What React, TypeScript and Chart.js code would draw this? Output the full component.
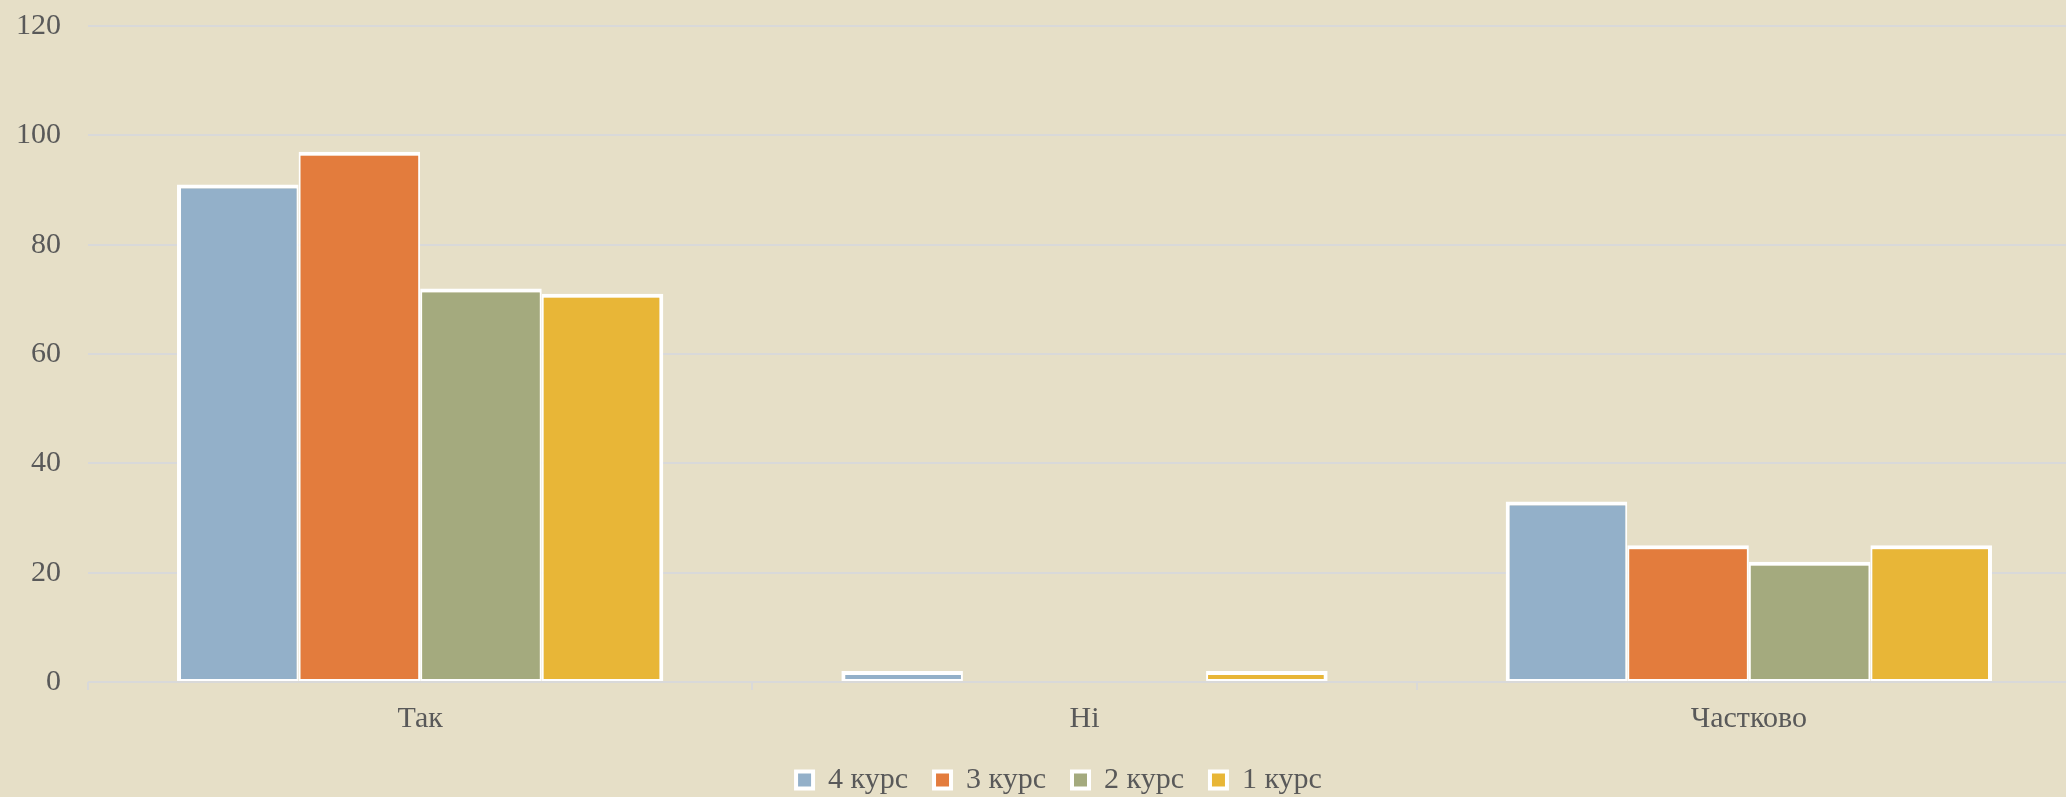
import React, { useEffect, useRef } from 'react';
import { Chart, registerables } from 'chart.js';

Chart.register(...registerables);

const categories = ['Так', 'Ні', 'Частково'];
const seriesLabels = ['4 курс', '3 курс', '2 курс', '1 курс'];
const course4 = [91, 2, 33];
const course3 = [97, 0, 25];
const course2 = [72, 0, 22];
const course1 = [71, 2, 25];
const yMin = 0;
const yMax = 120;
const yStep = 20;

const seriesColors = ['#93B0C9', '#E37C3D', '#A4AA7E', '#E8B637'];
const BG = '#E6DFC7';
const TEXT = '#595959';
const GRID = '#D9D9D9';
const FONT = '"Liberation Serif", "DejaVu Serif", serif';

export default function App() {
  const ref = useRef<HTMLCanvasElement | null>(null);

  useEffect(() => {
    if (!ref.current) return;
    const values = [course4, course3, course2, course1];
    const n = values.length;
    const chart = new Chart(ref.current, {
      type: 'bar',
      data: {
        labels: categories,
        datasets: values.map((v, i) => ({
          label: seriesLabels[i],
          data: v,
          backgroundColor: seriesColors[i],
          borderColor: '#FFFFFF',
          borderWidth: {
            top: 4,
            bottom: 2,
            left: i === 0 ? 4 : 2,
            right: i === n - 1 ? 4 : 2,
          },
          borderSkipped: false,
          categoryPercentage: 0.732,
          barPercentage: 1,
        })),
      },
      options: {
        responsive: false,
        animation: false,
        layout: { padding: { top: 26, left: 0, right: 0, bottom: 0 } },
        plugins: {
          tooltip: { enabled: false },
          legend: {
            position: 'bottom',
            labels: {
              color: TEXT,
              font: { family: FONT, size: 30 },
              boxWidth: 17,
              boxHeight: 17,
              padding: 26,
              generateLabels: (c: any) =>
                Chart.defaults.plugins.legend.labels
                  .generateLabels(c)
                  .map((l: any) => ({ ...l, lineWidth: 4, strokeStyle: '#FFFFFF' })),
            },
          },
        },
        scales: {
          x: {
            grid: {
              drawOnChartArea: false,
              drawTicks: true,
              tickLength: 8,
              color: GRID,
              lineWidth: 2,
              offset: true,
            },
            border: { display: false },
            ticks: {
              color: TEXT,
              font: { family: FONT, size: 30 },
              padding: 11,
            },
            afterFit: (s: any) => {
              s.height = 57;
              s.paddingTop = 0;
              s.paddingBottom = 0;
              s.paddingLeft = 0;
              s.paddingRight = 0;
            },
          },
          y: {
            min: yMin,
            max: yMax,
            ticks: {
              stepSize: yStep,
              color: TEXT,
              font: { family: FONT, size: 30 },
              padding: 27,
            },
            grid: { color: GRID, lineWidth: 2, drawTicks: false },
            border: { display: false },
            afterFit: (s: any) => {
              s.width = 88;
              s.paddingTop = 0;
              s.paddingBottom = 0;
            },
          },
          yPad: {
            position: 'right',
            display: true,
            ticks: { display: false },
            grid: { display: false },
            border: { display: false },
            afterFit: (s: any) => {
              s.width = 37;
              s.paddingTop = 0;
              s.paddingBottom = 0;
            },
          },
        },
      } as any,
    });
    return () => chart.destroy();
  }, []);

  return (
    <div
      style={{
        position: 'fixed',
        left: 0,
        top: 0,
        width: 2066,
        height: 797,
        overflow: 'hidden',
        background: BG,
      }}
    >
      <canvas ref={ref} width={2118} height={805} style={{ display: 'block' }} />
    </div>
  );
}
